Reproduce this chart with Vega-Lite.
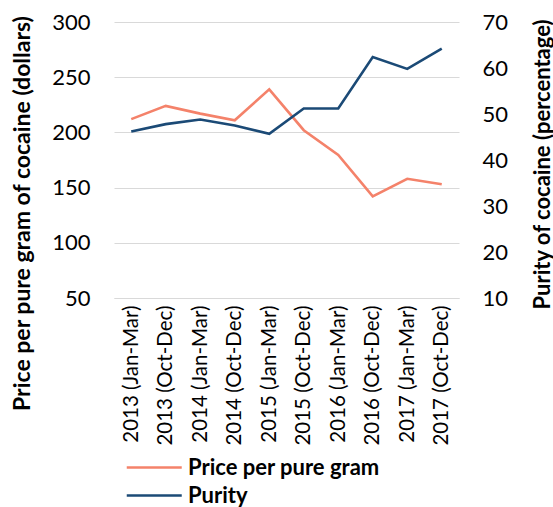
{
  "$schema": "https://vega.github.io/schema/vega-lite/v6.json",
  "autosize": {"type": "none"},
  "padding": {"left": 114, "top": 22, "right": 94, "bottom": 209},
  "width": 345,
  "height": 276,
  "background": "white",
  "config": {
    "font": "Lato",
    "view": {"stroke": null},
    "axis": {"labelFont": "Lato", "titleFont": "Lato", "labelColor": "#000000", "titleColor": "#000000"}
  },
  "data": {
    "values": [
      {"period": "2013 (Jan-Mar)", "price": 212, "purity": 46.2},
      {"period": "2013 (Oct-Dec)", "price": 224, "purity": 47.8},
      {"period": "2014 (Jan-Mar)", "price": 217, "purity": 48.8},
      {"period": "2014 (Oct-Dec)", "price": 211, "purity": 47.5},
      {"period": "2015 (Jan-Mar)", "price": 239, "purity": 45.7},
      {"period": "2015 (Oct-Dec)", "price": 202, "purity": 51.2},
      {"period": "2016 (Jan-Mar)", "price": 179.5, "purity": 51.2},
      {"period": "2016 (Oct-Dec)", "price": 142, "purity": 62.4},
      {"period": "2017 (Jan-Mar)", "price": 158, "purity": 59.8},
      {"period": "2017 (Oct-Dec)", "price": 153, "purity": 64.2}
    ]
  },
  "encoding": {
    "x": {
      "field": "period",
      "type": "nominal",
      "sort": null,
      "scale": {"type": "point", "padding": 0.5},
      "axis": {
        "title": null,
        "labelAngle": -90,
        "labelFontSize": 20.5,
        "labelPadding": 7,
        "ticks": false,
        "domain": true,
        "domainColor": "#d9d9d9",
        "domainWidth": 1.2,
        "grid": false
      }
    }
  },
  "layer": [
    {
      "mark": {"type": "line", "strokeWidth": 2.6},
      "encoding": {
        "y": {
          "field": "price",
          "type": "quantitative",
          "scale": {"domain": [50, 300], "nice": false, "zero": false},
          "axis": {
            "title": "Price per pure gram of cocaine (dollars)",
            "values": [50, 100, 150, 200, 250, 300],
            "labelFontSize": 22,
            "labelPadding": 24,
            "ticks": false,
            "domain": false,
            "grid": true,
            "gridColor": "#d9d9d9",
            "gridWidth": 1.2,
            "titleFontSize": 23,
            "titleFontWeight": "bold",
            "titleAngle": -90,
            "titleBaseline": "middle",
            "titleAlign": "center",
            "titleX": -92,
            "titleY": 191,
            "titleLimit": 0
          }
        },
        "color": {
          "datum": "Price per pure gram",
          "type": "nominal",
          "scale": {"domain": ["Price per pure gram", "Purity"], "range": ["#F4826A", "#1B4A76"]},
          "legend": {
            "title": null,
            "orient": "none",
            "legendX": 11,
            "legendY": 430,
            "direction": "vertical",
            "symbolType": "M-1,0H3",
            "symbolSize": 756,
            "symbolStrokeWidth": 2.6,
            "labelFontSize": 22,
            "labelFontWeight": "bold",
            "labelFont": "Lato",
            "labelColor": "#000000",
            "labelOffset": 32,
            "labelLimit": 0,
            "rowPadding": 1
          }
        }
      }
    },
    {
      "mark": {"type": "line", "strokeWidth": 2.6},
      "encoding": {
        "y": {
          "field": "purity",
          "type": "quantitative",
          "scale": {"domain": [10, 70], "nice": false, "zero": false},
          "axis": {
            "orient": "right",
            "title": "Purity of cocaine (percentage)",
            "values": [10, 20, 30, 40, 50, 60, 70],
            "labelFontSize": 22,
            "labelPadding": 23,
            "ticks": false,
            "domain": false,
            "grid": false,
            "titleFontSize": 22,
            "titleFontWeight": "bold",
            "titleAngle": -90,
            "titleBaseline": "middle",
            "titleAlign": "center",
            "titleX": 83,
            "titleY": 142,
            "titleLimit": 0
          }
        },
        "color": {"datum": "Purity", "type": "nominal"}
      }
    }
  ],
  "resolve": {"scale": {"y": "independent"}}
}
